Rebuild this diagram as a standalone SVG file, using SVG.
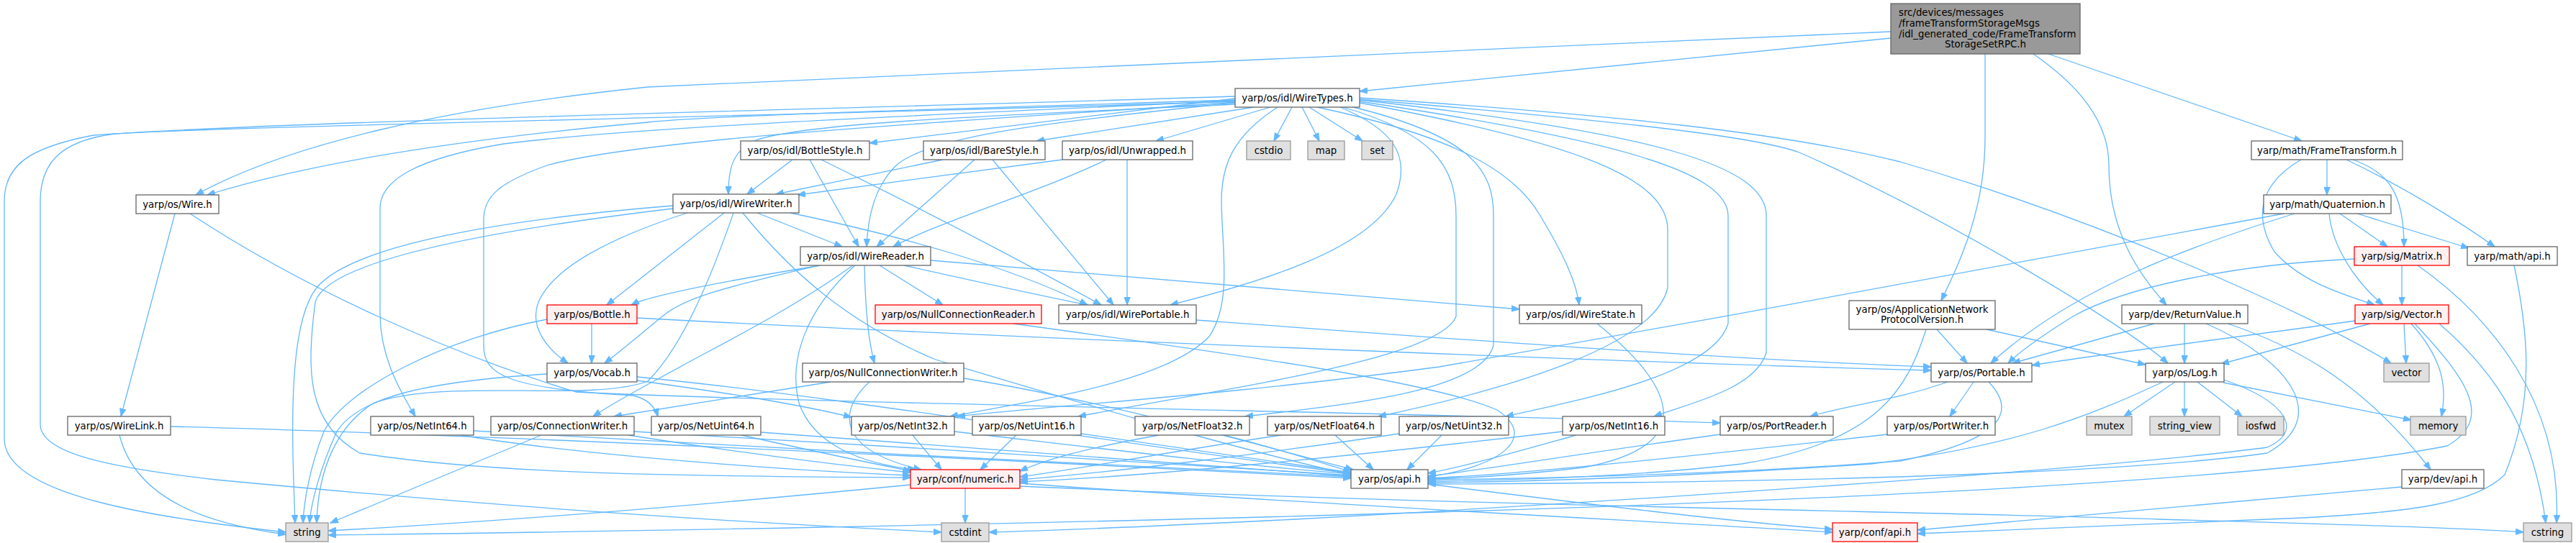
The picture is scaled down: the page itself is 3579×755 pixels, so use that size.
<svg xmlns="http://www.w3.org/2000/svg" width="3579" height="755" viewBox="0 0 3579 755">
<defs>
<style>
.nd rect{fill:#ffffff;stroke:#666666;stroke-width:1.3}
.ext rect{fill:#e0e0e0;stroke:#999999;stroke-width:1.3}
.tr rect{fill:#fff0f0;stroke:#ff0000;stroke-width:1.3}
.root rect{fill:#999999;stroke:#666666;stroke-width:1.3}
text{font-family:"DejaVu Sans","Liberation Sans",sans-serif;font-size:13.3px;fill:#000000;text-anchor:middle}
text.l{text-anchor:start}
#edges path{fill:none;stroke:#63b8ff;stroke-width:1.3;marker-end:url(#arr)}
</style>
<marker id="arr" markerUnits="userSpaceOnUse" markerWidth="12" markerHeight="9" refX="11" refY="4.5" orient="auto">
<path d="M0,0 L12,4.5 L0,9 z" fill="#63b8ff" stroke="#63b8ff" stroke-width="0.5"/>
</marker>
</defs>
<rect x="0" y="0" width="3579" height="755" fill="#ffffff"/>
<g id="edges">
<path d="M2627,44 C2000,72 1200,105 900,121 C620,150 400,200 272,271"/>
<path d="M2627,53 L1889,127"/>
<path d="M2758,75 L2758,190 C2758,290 2725,360 2697,418"/>
<path d="M2825,75 C2890,120 2930,170 2930,230 C2930,320 2970,380 3010,424"/>
<path d="M2846,75 L3198,196"/>
<path d="M1716,139 C1300,152 1000,160 900,170 C620,195 420,230 288,271"/>
<path d="M1716,134 C1300,148 400,168 130,188 C40,205 6,230 6,280 L6,610 C6,690 220,720 397,740"/>
<path d="M1716,141 C1300,156 300,176 160,186 C80,196 56,230 56,280 L56,590 C56,630 150,650 300,667 C700,705 1000,725 1308,740"/>
<path d="M1716,145 C1400,160 1120,170 1050,195 C1015,210 1012,240 1012,270"/>
<path d="M1716,143 C1450,170 1290,190 1245,230 C1215,260 1206,300 1204,343"/>
<path d="M1716,137 L1208,199"/>
<path d="M1742,149 L1440,196"/>
<path d="M1765,149 L1606,196"/>
<path d="M1795,149 L1770,196"/>
<path d="M1809,149 L1833,196"/>
<path d="M1819,149 L1893,196"/>
<path d="M1862,149 C1935,180 1960,215 1940,270 C1905,345 1760,390 1626,424"/>
<path d="M1775,149 C1712,190 1697,230 1697,280 C1698,350 1712,420 1680,468 C1620,530 1450,555 1320,579"/>
<path d="M1830,149 C2000,185 2100,230 2140,300 C2170,350 2190,390 2194,424"/>
<path d="M1866,149 C1990,185 2023,230 2023,300 L2023,440 C2000,500 1700,540 1498,579"/>
<path d="M1876,148 C2050,190 2075,240 2075,300 L2075,480 C2060,540 1900,560 1730,579"/>
<path d="M1889,143 C2200,200 2317,250 2317,320 L2317,400 C2300,480 2100,540 1915,579"/>
<path d="M1889,141 C2250,195 2401,240 2401,300 L2401,450 C2380,520 2200,555 2092,579"/>
<path d="M1889,139 C2300,185 2454,230 2454,300 L2454,490 C2440,540 2350,560 2298,579"/>
<path d="M1889,136 C2250,160 2480,185 2640,225 C2900,300 3200,430 3322,505"/>
<path d="M1889,138 C2250,168 2440,190 2500,212 C2700,300 2950,450 3012,505"/>
<path d="M1716,140 C1300,160 900,175 700,200 C580,220 528,250 528,290 L528,436 C528,500 560,550 577,579"/>
<path d="M1716,142 C1400,165 900,190 760,230 C690,255 672,275 672,305 L672,480 C672,520 700,540 880,550 C900,555 910,565 914,579"/>
<path d="M1101,222 L1038,270"/>
<path d="M1125,222 L1193,343"/>
<path d="M1141,222 C1300,300 1450,380 1530,424"/>
<path d="M1310,222 L1078,270"/>
<path d="M1354,222 L1218,343"/>
<path d="M1379,222 L1547,424"/>
<path d="M1476,222 L1108,271"/>
<path d="M1537,222 C1450,265 1300,310 1241,343"/>
<path d="M1566,222 L1566,424"/>
<path d="M243,297 L168,579"/>
<path d="M264,297 C420,400 620,490 800,545 C1100,560 2000,575 2390,588"/>
<path d="M166,605 C190,700 300,730 397,743"/>
<path d="M237,593 C700,605 1400,640 1877,665"/>
<path d="M1052,296 L1170,343"/>
<path d="M1098,296 C1260,330 1400,370 1511,424"/>
<path d="M1006,296 L843,424"/>
<path d="M955,296 C850,330 770,370 748,420 C735,455 760,485 789,505"/>
<path d="M1019,296 C990,380 950,480 900,530 C820,560 620,525 520,560 C470,590 442,650 440,727"/>
<path d="M1032,296 C1100,380 1180,450 1300,500 C1500,560 1700,620 1877,660"/>
<path d="M935,286 C700,305 490,340 440,400 C400,450 405,600 410,727"/>
<path d="M935,290 C700,318 455,360 438,420 C425,520 428,590 500,630 C700,662 1000,662 1265,664"/>
<path d="M1140,369 C1000,392 900,412 877,424"/>
<path d="M1137,369 C1030,395 955,410 920,440 C890,465 860,490 840,505"/>
<path d="M1185,369 C1100,430 1000,480 956,504 C900,535 860,555 824,579"/>
<path d="M1188,369 C1120,430 1095,500 1110,560 C1130,620 1200,645 1272,653"/>
<path d="M1201,369 C1202,420 1205,470 1215,505"/>
<path d="M1222,369 L1310,424"/>
<path d="M1256,369 C1350,390 1440,410 1511,424"/>
<path d="M1293,362 C1600,385 1900,410 2111,430"/>
<path d="M822,450 L822,505"/>
<path d="M760,444 C620,470 480,540 450,600 C430,650 422,700 421,727"/>
<path d="M885,442 C1400,470 2300,505 2683,515"/>
<path d="M760,520 C600,530 500,550 468,600 C445,650 432,700 430,727"/>
<path d="M885,529 C1000,545 1100,560 1183,580"/>
<path d="M885,524 C1200,555 1600,625 1877,658"/>
<path d="M752,605 L459,727"/>
<path d="M873,605 C1000,625 1150,645 1265,657"/>
<path d="M881,600 C1200,618 1600,643 1877,661"/>
<path d="M1154,531 L853,579"/>
<path d="M1208,531 C1165,570 1160,625 1280,653"/>
<path d="M1339,526 C1550,560 1750,620 1880,653"/>
<path d="M1408,450 C1700,490 1990,530 2080,570 C2140,610 2080,650 1984,663"/>
<path d="M1662,445 C2000,470 2400,500 2683,510"/>
<path d="M2219,450 C2330,540 2360,620 2200,650 C2100,662 2030,665 1984,666"/>
<path d="M640,605 C800,632 1100,655 1265,661"/>
<path d="M658,599 C1000,620 1600,650 1877,663"/>
<path d="M1030,605 C1120,625 1200,642 1266,655"/>
<path d="M1057,601 C1400,625 1700,650 1877,662"/>
<path d="M1268,605 L1308,653"/>
<path d="M1326,600 C1500,620 1700,645 1877,659"/>
<path d="M1412,605 L1362,653"/>
<path d="M1502,603 C1650,625 1800,645 1877,657"/>
<path d="M1610,605 C1500,625 1450,640 1417,655"/>
<path d="M1700,605 C1780,625 1840,645 1877,656"/>
<path d="M1780,605 C1600,632 1500,652 1417,663"/>
<path d="M1855,605 L1908,653"/>
<path d="M1944,603 C1750,632 1550,656 1417,667"/>
<path d="M2003,605 L1955,653"/>
<path d="M2171,600 C1900,632 1600,662 1417,670"/>
<path d="M2190,605 C2100,630 2030,650 1984,658"/>
<path d="M2390,604 C2200,630 2050,655 1984,662"/>
<path d="M2622,604 C2300,640 2100,660 1984,665"/>
<path d="M2706,531 C2640,555 2560,565 2515,579"/>
<path d="M2742,531 L2709,579"/>
<path d="M2763,531 C2800,570 2790,610 2640,641 C2400,660 2150,665 1984,667"/>
<path d="M2691,458 L2733,505"/>
<path d="M2760,458 L2981,507"/>
<path d="M2676,458 C2650,540 2610,615 2420,645 C2250,665 2080,668 1984,669"/>
<path d="M2993,450 L2796,505"/>
<path d="M3035,450 L3035,505"/>
<path d="M3095,450 C3200,485 3290,540 3377,653"/>
<path d="M3065,450 C3180,500 3240,580 3150,630 C2900,665 2300,672 1984,673"/>
<path d="M3022,531 L2951,579"/>
<path d="M3035,531 L3035,579"/>
<path d="M3053,531 L3115,579"/>
<path d="M3089,532 L3350,584"/>
<path d="M3005,531 C2900,580 2800,620 2600,645 C2300,665 2100,670 1984,671"/>
<path d="M3090,528 C3180,560 3200,600 3150,622 C2900,655 2200,700 1800,722 C1600,732 1450,738 1374,740"/>
<path d="M3233,222 L3233,271"/>
<path d="M3197,222 C3140,255 3130,300 3160,350 C3200,395 3260,410 3299,424"/>
<path d="M3269,222 C3320,240 3340,270 3340,343"/>
<path d="M3260,222 C3340,260 3420,310 3466,343"/>
<path d="M3251,297 L3317,343"/>
<path d="M3236,297 C3240,340 3270,390 3311,424"/>
<path d="M3275,297 L3430,345"/>
<path d="M3188,297 C3050,340 2880,400 2766,505"/>
<path d="M3173,297 C2900,350 2400,440 2000,510 C1700,550 1450,565 1330,579"/>
<path d="M3337,369 L3337,424"/>
<path d="M3271,360 C3100,368 2950,400 2880,440 C2840,465 2805,490 2790,505"/>
<path d="M3359,369 C3460,440 3560,560 3552,727"/>
<path d="M3272,446 C3100,470 2900,495 2823,508"/>
<path d="M3293,450 L3086,506"/>
<path d="M3340,450 L3343,505"/>
<path d="M3350,450 C3395,500 3400,540 3392,579"/>
<path d="M3389,450 C3470,520 3520,600 3537,727"/>
<path d="M3355,450 C3420,520 3470,580 3400,620 C3200,660 2700,690 2000,712 C1400,730 800,740 456,744"/>
<path d="M3493,369 C3510,450 3525,550 3480,660 C3440,700 3350,712 3200,720 C2950,730 2750,738 2664,742"/>
<path d="M3337,677 C3000,705 2800,725 2664,737"/>
<path d="M1984,673 C2200,700 2400,725 2546,736"/>
<path d="M1417,672 C1800,700 2300,725 2546,740"/>
<path d="M1417,676 C2000,702 2700,712 3000,722 C3300,730 3450,736 3506,740"/>
<path d="M1341,679 L1341,727"/>
<path d="M1265,674 C1000,700 700,725 456,738"/>
</g>
<g id="node-src" class="root"><rect x="2627" y="5" width="263" height="70"/><text class="l" x="2638" y="21.5">src/devices/messages</text><text class="l" x="2638" y="36.5">/frameTransformStorageMsgs</text><text class="l" x="2638" y="51.5">/idl_generated_code/FrameTransform</text><text x="2758.5" y="66">StorageSetRPC.h</text></g>
<g id="node-WireTypes" class="nd"><rect x="1716" y="123" width="173" height="26"/><text x="1802.5" y="140.5">yarp/os/idl/WireTypes.h</text></g>
<g id="node-BottleStyle" class="nd"><rect x="1029" y="196" width="179" height="26"/><text x="1118.5" y="213.5">yarp/os/idl/BottleStyle.h</text></g>
<g id="node-BareStyle" class="nd"><rect x="1283" y="196" width="169" height="26"/><text x="1367.5" y="213.5">yarp/os/idl/BareStyle.h</text></g>
<g id="node-Unwrapped" class="nd"><rect x="1476" y="196" width="181" height="26"/><text x="1566.5" y="213.5">yarp/os/idl/Unwrapped.h</text></g>
<g id="node-cstdio" class="ext"><rect x="1732" y="196" width="61" height="26"/><text x="1762.5" y="213.5">cstdio</text></g>
<g id="node-map" class="ext"><rect x="1817" y="196" width="51" height="26"/><text x="1842.5" y="213.5">map</text></g>
<g id="node-set" class="ext"><rect x="1892" y="196" width="43" height="26"/><text x="1913.5" y="213.5">set</text></g>
<g id="node-FrameTransform" class="nd"><rect x="3128" y="196" width="210" height="26"/><text x="3233" y="213.5">yarp/math/FrameTransform.h</text></g>
<g id="node-Wire" class="nd"><rect x="189" y="271" width="115" height="26"/><text x="246.5" y="288.5">yarp/os/Wire.h</text></g>
<g id="node-WireWriter" class="nd"><rect x="935" y="270" width="175" height="26"/><text x="1022.5" y="287.5">yarp/os/idl/WireWriter.h</text></g>
<g id="node-Quaternion" class="nd"><rect x="3145" y="271" width="177" height="26"/><text x="3233.5" y="288.5">yarp/math/Quaternion.h</text></g>
<g id="node-WireReader" class="nd"><rect x="1112" y="343" width="181" height="26"/><text x="1202.5" y="360.5">yarp/os/idl/WireReader.h</text></g>
<g id="node-Matrix" class="tr"><rect x="3271" y="343" width="132" height="26"/><text x="3337" y="360.5">yarp/sig/Matrix.h</text></g>
<g id="node-mathapi" class="nd"><rect x="3428" y="343" width="125" height="26"/><text x="3490.5" y="360.5">yarp/math/api.h</text></g>
<g id="node-Bottle" class="tr"><rect x="760" y="424" width="125" height="26"/><text x="822.5" y="441.5">yarp/os/Bottle.h</text></g>
<g id="node-NullConnectionReader" class="tr"><rect x="1216" y="424" width="231" height="26"/><text x="1331.5" y="441.5">yarp/os/NullConnectionReader.h</text></g>
<g id="node-WirePortable" class="nd"><rect x="1471" y="424" width="191" height="26"/><text x="1566.5" y="441.5">yarp/os/idl/WirePortable.h</text></g>
<g id="node-WireState" class="nd"><rect x="2111" y="424" width="170" height="26"/><text x="2196" y="441.5">yarp/os/idl/WireState.h</text></g>
<g id="node-AppNet" class="nd"><rect x="2569" y="418" width="203" height="40"/><text x="2670.5" y="434.5">yarp/os/ApplicationNetwork</text><text x="2670.5" y="449">ProtocolVersion.h</text></g>
<g id="node-ReturnValue" class="nd"><rect x="2948" y="424" width="175" height="26"/><text x="3035.5" y="441.5">yarp/dev/ReturnValue.h</text></g>
<g id="node-Vector" class="tr"><rect x="3272" y="424" width="130" height="26"/><text x="3337" y="441.5">yarp/sig/Vector.h</text></g>
<g id="node-Vocab" class="nd"><rect x="760" y="505" width="125" height="26"/><text x="822.5" y="522.5">yarp/os/Vocab.h</text></g>
<g id="node-NullConnectionWriter" class="nd"><rect x="1115" y="505" width="224" height="26"/><text x="1227" y="522.5">yarp/os/NullConnectionWriter.h</text></g>
<g id="node-Portable" class="nd"><rect x="2683" y="505" width="140" height="26"/><text x="2753" y="522.5">yarp/os/Portable.h</text></g>
<g id="node-Log" class="nd"><rect x="2981" y="505" width="109" height="26"/><text x="3035.5" y="522.5">yarp/os/Log.h</text></g>
<g id="node-vector" class="ext"><rect x="3312" y="505" width="63" height="26"/><text x="3343.5" y="522.5">vector</text></g>
<g id="node-WireLink" class="nd"><rect x="94" y="579" width="143" height="26"/><text x="165.5" y="596.5">yarp/os/WireLink.h</text></g>
<g id="node-NetInt64" class="nd"><rect x="515" y="579" width="143" height="26"/><text x="586.5" y="596.5">yarp/os/NetInt64.h</text></g>
<g id="node-ConnectionWriter" class="nd"><rect x="682" y="579" width="199" height="26"/><text x="781.5" y="596.5">yarp/os/ConnectionWriter.h</text></g>
<g id="node-NetUint64" class="nd"><rect x="905" y="579" width="152" height="26"/><text x="981" y="596.5">yarp/os/NetUint64.h</text></g>
<g id="node-NetInt32" class="nd"><rect x="1183" y="579" width="143" height="26"/><text x="1254.5" y="596.5">yarp/os/NetInt32.h</text></g>
<g id="node-NetUint16" class="nd"><rect x="1351" y="579" width="151" height="26"/><text x="1426.5" y="596.5">yarp/os/NetUint16.h</text></g>
<g id="node-NetFloat32" class="nd"><rect x="1577" y="579" width="159" height="26"/><text x="1656.5" y="596.5">yarp/os/NetFloat32.h</text></g>
<g id="node-NetFloat64" class="nd"><rect x="1761" y="579" width="158" height="26"/><text x="1840" y="596.5">yarp/os/NetFloat64.h</text></g>
<g id="node-NetUint32" class="nd"><rect x="1944" y="579" width="152" height="26"/><text x="2020" y="596.5">yarp/os/NetUint32.h</text></g>
<g id="node-NetInt16" class="nd"><rect x="2171" y="579" width="142" height="26"/><text x="2242" y="596.5">yarp/os/NetInt16.h</text></g>
<g id="node-PortReader" class="nd"><rect x="2390" y="579" width="157" height="26"/><text x="2468.5" y="596.5">yarp/os/PortReader.h</text></g>
<g id="node-PortWriter" class="nd"><rect x="2622" y="579" width="150" height="26"/><text x="2697" y="596.5">yarp/os/PortWriter.h</text></g>
<g id="node-mutex" class="ext"><rect x="2899" y="579" width="63" height="26"/><text x="2930.5" y="596.5">mutex</text></g>
<g id="node-string_view" class="ext"><rect x="2987" y="579" width="97" height="26"/><text x="3035.5" y="596.5">string_view</text></g>
<g id="node-iosfwd" class="ext"><rect x="3109" y="579" width="64" height="26"/><text x="3141" y="596.5">iosfwd</text></g>
<g id="node-memory" class="ext"><rect x="3349" y="579" width="77" height="26"/><text x="3387.5" y="596.5">memory</text></g>
<g id="node-numeric" class="tr"><rect x="1265" y="653" width="152" height="26"/><text x="1341" y="670.5">yarp/conf/numeric.h</text></g>
<g id="node-osapi" class="nd"><rect x="1877" y="653" width="107" height="26"/><text x="1930.5" y="670.5">yarp/os/api.h</text></g>
<g id="node-devapi" class="nd"><rect x="3337" y="653" width="114" height="26"/><text x="3394" y="670.5">yarp/dev/api.h</text></g>
<g id="node-string" class="ext"><rect x="397" y="727" width="59" height="26"/><text x="426.5" y="744.5">string</text></g>
<g id="node-cstdint" class="ext"><rect x="1308" y="727" width="66" height="26"/><text x="1341" y="744.5">cstdint</text></g>
<g id="node-confapi" class="tr"><rect x="2546" y="727" width="118" height="26"/><text x="2605" y="744.5">yarp/conf/api.h</text></g>
<g id="node-cstring" class="ext"><rect x="3506" y="727" width="67" height="26"/><text x="3539.5" y="744.5">cstring</text></g>
</svg>
